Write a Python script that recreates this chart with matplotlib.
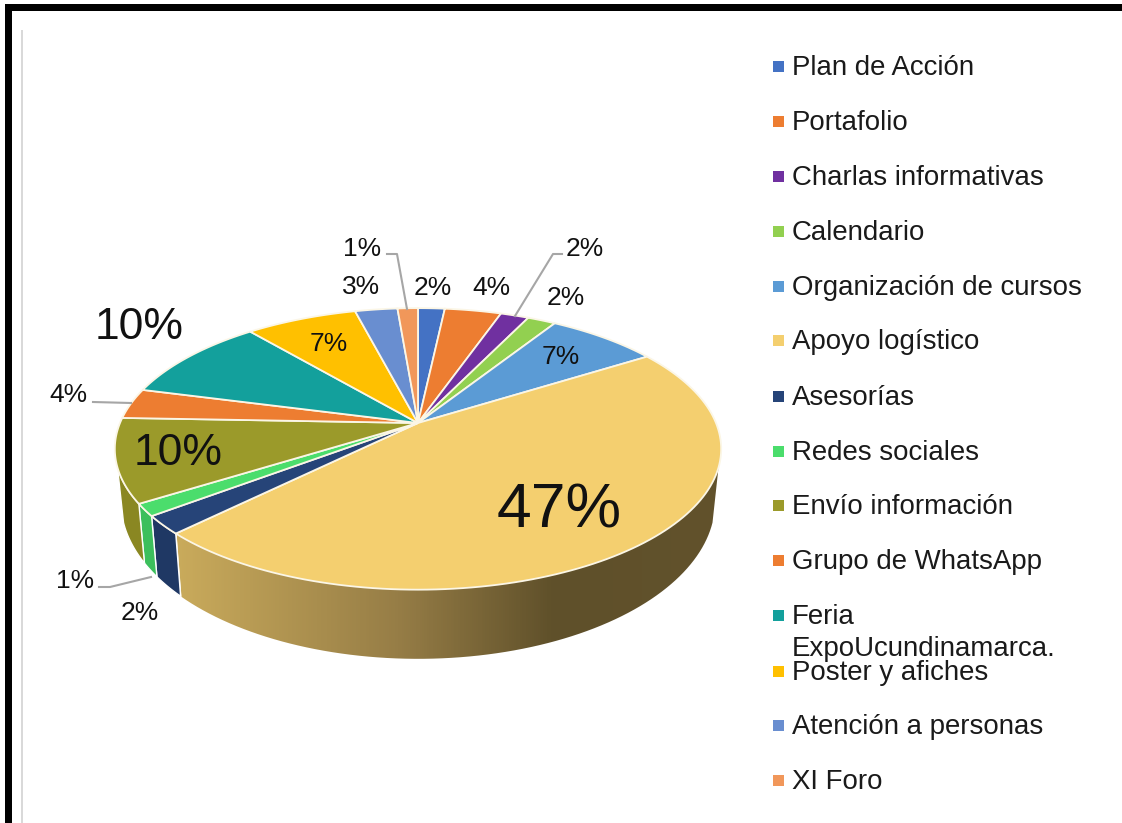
import numpy as np
import matplotlib
matplotlib.use("Agg")
import matplotlib.pyplot as plt
from matplotlib.patches import Polygon, Rectangle

plt.rcParams["font.family"] = ["Liberation Sans", "DejaVu Sans"]

# datos
categorias = ["Plan de Acción", "Portafolio", "Charlas informativas", "Calendario",
              "Organización de cursos", "Apoyo logístico", "Asesorías", "Redes sociales",
              "Envío información", "Grupo de WhatsApp", "Feria\nExpoUcundinamarca.",
              "Poster y afiches", "Atención a personas", "XI Foro"]
valores = [1.7, 3.6, 1.8, 1.8, 7.1, 46.5, 2.1, 1.4, 9.6, 3.5, 9.8, 7.1, 2.7, 1.3]
etiquetas = ["2%", "4%", "2%", "2%", "7%", "47%", "2%", "1%", "10%", "4%", "10%", "7%", "3%", "1%"]
colores = ["#4472C4", "#ED7D31", "#7030A0", "#92D050", "#5B9BD5", "#F4CF6F", "#264478",
           "#4BDD6C", "#9B9A2A", "#ED7D31", "#13A09C", "#FFC000", "#698ED0", "#F1975A"]
colores_lado = ["#34568F", "#B05C24", "#532478", "#6E9C3C", "#44749F", "#C8A95A", "#1F3864",
                "#3CBF5C", "#8A8722", "#B05C24", "#0E7875", "#BF9000", "#4F6A9C", "#B57143"]

# posicion de cada etiqueta en pixeles y tamano
pos_etiquetas = [(433, 288), (491, 288), (585, 249), (566, 298), (561, 357), (559, 511), (140, 613),
                 (75, 581), (178, 453), (68, 395), (139, 327), (329, 344), (361, 287), (362, 249)]
tam_etiquetas = [19, 19, 19, 19, 19, 45, 19, 19, 32, 19, 32, 19, 19, 19]
guias = [[(387, 254), (397, 254), (407, 309)],
         [(562, 254), (553, 254), (515, 316)],
         [(93, 402), (131, 403)],
         [(99, 587), (110, 587), (151, 577)]]
y_leyenda = [66, 121, 176, 231, 286, 340, 396, 451, 505, 560, 615, 671, 725, 780]

# geometria del pastel (perspectiva)
x0, y0 = 418, 423
a, b, k = 298, 136, 0.184


def borde(theta):
    u, v = np.sin(theta), np.cos(theta)
    d = 1 + k * v
    return x0 + a * u / d, y0 - b * v / d


def borde_abajo(theta):
    x, y = borde(theta)
    return x0 + 0.98 * (x - x0), y + 50 + 0.115 * np.maximum(y - y0, 0)


fig = plt.figure(figsize=(11.22, 8.23), dpi=100)
ax = fig.add_axes([0, 0, 1, 1])
ax.set_xlim(0, 1122)
ax.set_ylim(823, 0)
ax.axis("off")

# marco de la captura
ax.add_patch(Rectangle((5, 4), 1117, 7, color="black", lw=0))
ax.add_patch(Rectangle((5, 4), 7, 819, color="black", lw=0))
ax.add_patch(Rectangle((21, 30), 2, 793, color="#D9D9D9", lw=0))

angulos = np.concatenate([[0], np.cumsum(valores)]) / np.sum(valores) * 2 * np.pi
lim_der, lim_izq = np.radians(108), np.radians(252)

# lados
for i in range(len(valores)):
    t1 = max(angulos[i], lim_der)
    t2 = min(angulos[i + 1], lim_izq)
    if t2 <= t1:
        continue
    t = np.linspace(t1, t2, 80)
    xa, ya = borde(t)
    xb, yb = borde_abajo(t)
    pts = np.column_stack([np.r_[xa, xb[::-1]], np.r_[ya, yb[::-1]]])
    if categorias[i] == "Apoyo logístico":
        pol = Polygon(pts, closed=True, fc="none", ec="none")
        ax.add_patch(pol)
        xs = np.linspace(150, 730, 300)
        r = np.interp(xs, [172, 400, 555, 730], [203, 150, 95, 98])
        g = np.interp(xs, [172, 400, 555, 730], [172, 125, 80, 82])
        bl = np.interp(xs, [172, 400, 555, 730], [92, 70, 42, 44])
        grad = np.dstack([r, g, bl]).astype(np.uint8)[np.newaxis, :, :].reshape(1, 300, 3)
        im = ax.imshow(grad, extent=(150, 730, 700, 400), aspect="auto", zorder=1)
        im.set_clip_path(pol)
        ax.set_xlim(0, 1122)
        ax.set_ylim(823, 0)
        ax.plot([xa[-1], xb[-1]], [ya[-1], yb[-1]], color="white", lw=1.2, zorder=2)
    else:
        ax.add_patch(Polygon(pts, closed=True, fc=colores_lado[i], ec="white", lw=1.0, zorder=2))

# cara superior
for i in range(len(valores)):
    t = np.linspace(angulos[i], angulos[i + 1], 120)
    xa, ya = borde(t)
    pts = np.column_stack([np.r_[x0, xa], np.r_[y0, ya]])
    ax.add_patch(Polygon(pts, closed=True, fc=colores[i], ec="#FBF6E6", lw=1.3, zorder=3))

# etiquetas y lineas guia
for txt, (px, py), tam in zip(etiquetas, pos_etiquetas, tam_etiquetas):
    ax.text(px, py, txt, fontsize=tam, ha="center", va="center", color="#111111", zorder=5)
for g in guias:
    ax.plot([p[0] for p in g], [p[1] for p in g], color="#A6A6A6", lw=1.5, zorder=4)

# leyenda
for nombre, col, yy in zip(categorias, colores, y_leyenda):
    ax.add_patch(Rectangle((773, yy - 5), 11, 11, color=col, lw=0))
    lineas = nombre.split("\n")
    for j, lin in enumerate(lineas):
        ax.text(792, yy + 2 + j * 32, lin, fontsize=19.9, ha="left", va="center", color="#1A1A1A")

fig.savefig("out.png", dpi=100)
